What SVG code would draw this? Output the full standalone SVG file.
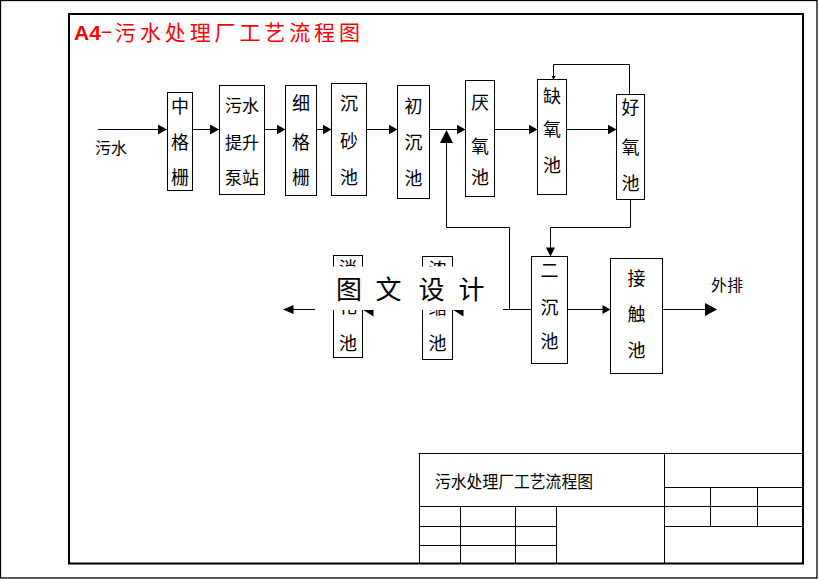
<svg xmlns="http://www.w3.org/2000/svg" width="819" height="579" viewBox="0 0 819 579">
<style>
.frame{fill:none;stroke:#000}
.box{fill:#fff;stroke:#000;stroke-width:1}
.ln{fill:none;stroke:#000;stroke-width:1}
.ah{fill:#000;stroke:none}
.lbl{font-family:"Noto Sans CJK SC","Noto Sans",sans-serif;font-size:18px;fill:#000;text-anchor:middle}
.txt{font-family:"Noto Sans CJK SC","Noto Sans",sans-serif;fill:#000}
</style>
<defs>
<marker id="arr" markerUnits="userSpaceOnUse" markerWidth="9" markerHeight="10" refX="9" refY="5" orient="auto">
<path d="M0,0 L9,5 L0,10 Z" fill="#000"/>
</marker>
</defs>
<rect width="819" height="579" fill="#fff"/>
<rect class="frame" x="0.5" y="0.5" width="816.5" height="577.5" stroke-width="1.3"/>
<rect class="frame" x="69" y="14" width="734" height="549.5" stroke-width="2"/>
<text x="74" y="39.5" font-family="Liberation Sans, Arial, sans-serif" font-weight="bold" font-size="21" fill="#f00">A4</text>
<text x="100" y="38" font-family="Liberation Sans, Arial, sans-serif" font-size="21" fill="#f00" textLength="13" lengthAdjust="spacingAndGlyphs">-</text>
<text x="115" y="39.5" class="txt" font-size="21" fill="#f00" style="fill:#f00" textLength="245" lengthAdjust="spacing">污水处理厂工艺流程图</text>

<g id="connectors">
<path class="ln" d="M98 129.5 H167" marker-end="url(#arr)"/>
<path class="ln" d="M192.5 129.5 H219" marker-end="url(#arr)"/>
<path class="ln" d="M264.5 129.5 H285.5" marker-end="url(#arr)"/>
<path class="ln" d="M316.5 129.5 H331.5" marker-end="url(#arr)"/>
<path class="ln" d="M366.5 129.5 H397.5" marker-end="url(#arr)"/>
<path class="ln" d="M429.5 129.5 H465.5" marker-end="url(#arr)"/>
<path class="ln" d="M494.5 129.5 H537.5" marker-end="url(#arr)"/>
<path class="ln" d="M566.5 129.5 H616.5" marker-end="url(#arr)"/>
<path class="ln" d="M629.5 94.5 V64.5 H553.5 V79"/>
<polygon class="ah" points="551.5,76 555.5,76 553.5,79.5"/>
<path class="ln" d="M509.5 309.5 V227.5 H446.5 V143"/>
<polygon class="ah" points="446.5,130 440,143 453,143"/>
<path class="ln" d="M630.5 199.5 V227.5 H550.5 V248"/>
<polygon class="ah" points="546,247.5 555,247.5 550.5,256.5"/>
<path class="ln" d="M531.5 309.5 H452.5"/>
<polygon class="ah" points="452.5,309.5 463.5,302.5 463.5,316.5"/>
<path class="ln" d="M422.5 309.5 H362.5"/>
<polygon class="ah" points="362.5,309.5 373.5,302.5 373.5,316.5"/>
<path class="ln" d="M333.5 309.5 H293"/>
<polygon class="ah" points="283,309.5 293.5,305 293.5,314"/>
<path class="ln" d="M567.5 309.5 H603"/>
<polygon class="ah" points="610.5,309.5 602.5,305 602.5,314"/>
<path class="ln" d="M662.5 309.5 H705"/>
<polygon class="ah" points="717,309.5 705,303 705,316"/>
</g>

<g id="n1"><rect class="box" x="167.5" y="92.5" width="25" height="98"/>
<text class="lbl"><tspan x="180" y="113">中</tspan><tspan x="180" y="149">格</tspan><tspan x="180" y="184">栅</tspan></text></g>
<g id="n2"><rect class="box" x="219.5" y="85.5" width="45" height="109"/>
<text class="lbl" style="font-size:17px"><tspan x="242" y="111.5">污水</tspan><tspan x="242" y="148.5">提升</tspan><tspan x="242" y="183.5">泵站</tspan></text></g>
<g id="n3"><rect class="box" x="285.5" y="85.5" width="31" height="110"/>
<text class="lbl"><tspan x="301" y="110">细</tspan><tspan x="301" y="149">格</tspan><tspan x="301" y="184">栅</tspan></text></g>
<g id="n4"><rect class="box" x="331.5" y="83.5" width="35" height="112"/>
<text class="lbl"><tspan x="349" y="110">沉</tspan><tspan x="349" y="148">砂</tspan><tspan x="349" y="184">池</tspan></text></g>
<g id="n5"><rect class="box" x="397.5" y="85.5" width="32" height="113"/>
<text class="lbl"><tspan x="413.5" y="113">初</tspan><tspan x="413.5" y="149">沉</tspan><tspan x="413.5" y="185">池</tspan></text></g>
<g id="n6"><rect class="box" x="465.5" y="80.5" width="29" height="116"/>
<text class="lbl"><tspan x="480" y="109">厌</tspan><tspan x="480" y="153">氧</tspan><tspan x="480" y="184">池</tspan></text></g>
<g id="n7"><rect class="box" x="537.5" y="79.5" width="29" height="115"/>
<text class="lbl"><tspan x="552" y="103">缺</tspan><tspan x="552" y="136">氧</tspan><tspan x="552" y="172">池</tspan></text></g>
<g id="n8"><rect class="box" x="616.5" y="94.5" width="28" height="105"/>
<text class="lbl"><tspan x="630.5" y="114">好</tspan><tspan x="630.5" y="154">氧</tspan><tspan x="630.5" y="190">池</tspan></text></g>
<g id="n9"><rect class="box" x="531.5" y="256.5" width="36" height="107"/>
<text class="lbl"><tspan x="549.5" y="277">二</tspan><tspan x="549.5" y="314">沉</tspan><tspan x="549.5" y="348">池</tspan></text></g>
<g id="n10"><rect class="box" x="610.5" y="258.5" width="52" height="115"/>
<text class="lbl"><tspan x="636.5" y="285">接</tspan><tspan x="636.5" y="321">触</tspan><tspan x="636.5" y="357">池</tspan></text></g>
<g id="n11"><rect class="box" x="333.5" y="255.5" width="29" height="102"/>
<text class="lbl"><tspan x="348" y="275">消</tspan><tspan x="348" y="313">化</tspan><tspan x="348" y="350">池</tspan></text></g>
<g id="n12"><rect class="box" x="422.5" y="256.5" width="30" height="103"/>
<text class="lbl"><tspan x="437.5" y="276">浓</tspan><tspan x="437.5" y="314">缩</tspan><tspan x="437.5" y="350">池</tspan></text></g>

<text class="txt" x="95" y="154" font-size="16">污水</text>
<text class="txt" x="711" y="291" font-size="16">外排</text>

<g id="watermark">
<rect x="315" y="266.5" width="188" height="43.5" fill="#fff"/>
<text class="txt" font-size="26" text-anchor="middle" x="349 388.5 431.5 471.5" y="298.5">图文设计</text>
</g>

<g id="titleblock">
<path class="ln" stroke-width="2" d="M418.5 453.5 H803 M419.5 453 V563.5"/>
<path class="ln" d="M664.5 453.5 V563.5 M419 506.5 H803 M664.5 487.5 H803 M664.5 526.5 H803 M710.5 487.5 V526.5 M757.5 487.5 V526.5 M419 526.5 H556.5 M419 545.5 H556.5 M460.5 506.5 V563.5 M515.5 506.5 V563.5 M556.5 506.5 V563.5"/>
<text class="txt" x="435" y="488" font-size="17" textLength="158" lengthAdjust="spacingAndGlyphs">污水处理厂工艺流程图</text>
</g>
</svg>
